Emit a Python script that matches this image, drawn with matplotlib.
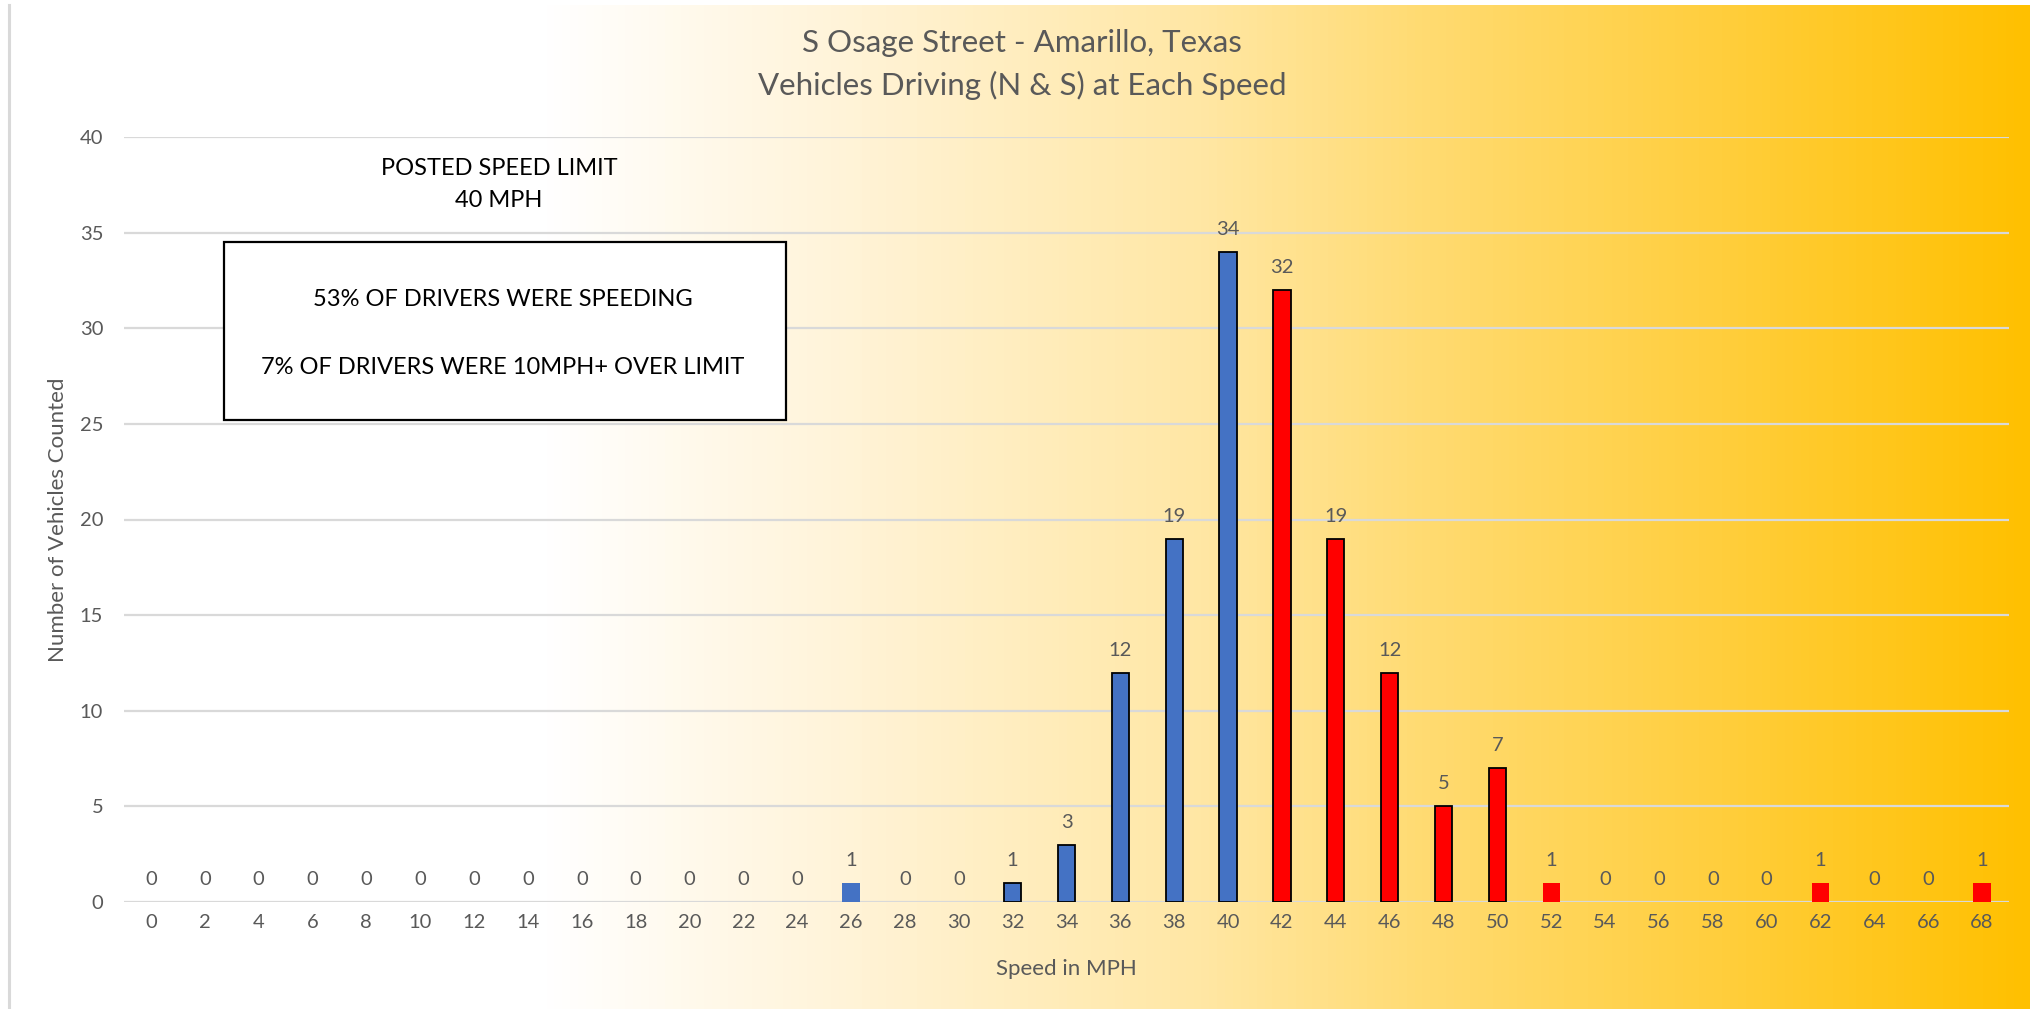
"""
Speed survey chart: vehicles counted at each speed on S Osage Street.
"""
import numpy as np
import matplotlib
matplotlib.use('Agg')
import matplotlib.pyplot as plt
from matplotlib.colors import LinearSegmentedColormap
from matplotlib.lines import Line2D
from matplotlib.patches import Rectangle

speeds = list(range(0, 70, 2))
counts = [0, 0, 0, 0, 0, 0, 0, 0, 0, 0, 0, 0, 0, 1, 0, 0, 1, 3, 12, 19,
          34, 32, 19, 12, 5, 7, 1, 0, 0, 0, 0, 1, 0, 0, 1]
speed_limit = 40
title_lines = ['S Osage Street - Amarillo, Texas',
               'Vehicles Driving (N & S) at Each Speed']
notes = ['53% OF DRIVERS WERE SPEEDING',
         '7% OF DRIVERS WERE 10MPH+ OVER LIMIT']

# styling
FONT = ['Lato', 'DejaVu Sans']
GREY = '#595959'
BLUE = '#4472C4'
RED = '#FF0000'
no_outline = {26, 52, 62, 68}

W, H = 2030, 1009
plt.rcParams['font.family'] = FONT
fig = plt.figure(figsize=(W / 100, H / 100), dpi=100)

# gradient background of the chart area
bg = fig.add_axes([10 / W, 0, 1 - 10 / W, 1 - 5 / H], zorder=-2)
cmap = LinearSegmentedColormap.from_list('fill', [
    (0.0, '#FFFFFF'), (0.265, '#FFFFFF'), (0.42, '#FFF3D6'),
    (0.59, '#FFE7A4'), (0.70, '#FFDB72'), (0.85, '#FFCE3C'),
    (1.0, '#FFC000')])
bg.imshow(np.linspace(0, 1, 512)[None, :], aspect='auto', cmap=cmap,
          extent=[0, 1, 0, 1])
bg.set_axis_off()
fig.add_artist(Line2D([9 / W, 9 / W], [0, 1 - 5 / H], color='#D9D9D9',
                      lw=2.2, transform=fig.transFigure))

ax = fig.add_axes([124 / W, 1 - 902 / H, (2009 - 124) / W, (902 - 137) / H])
ax.patch.set_alpha(0)

x = np.arange(len(speeds))
colors = [BLUE if s <= speed_limit else RED for s in speeds]
edges = ['none' if (s in no_outline or c == 0) else 'black'
         for s, c in zip(speeds, counts)]
bars = ax.bar(x, counts, width=0.32, color=colors, edgecolor=edges,
              linewidth=1.3, zorder=3)
ax.bar_label(bars, labels=[str(c) for c in counts], padding=10,
             color=GREY, fontsize=14.5)

ax.set_xlim(-0.5, len(speeds) - 0.5)
ax.set_ylim(0, 40)
ax.set_yticks(range(0, 41, 5))
ax.set_xticks(x, [str(s) for s in speeds])
ax.tick_params(length=0, labelsize=14.5, labelcolor=GREY)
ax.tick_params(axis='x', pad=9)
ax.tick_params(axis='y', pad=15)
ax.grid(axis='y', color='#D9D9D9', lw=1.6, zorder=0)
for sp in ax.spines.values():
    sp.set_visible(False)

fig.text(1066 / W, 1 - 969 / H, 'Speed in MPH', ha='center', va='center',
         fontsize=16, color=GREY)
fig.text(58 / W, 1 - 520 / H, 'Number of Vehicles Counted', rotation=90,
         ha='center', va='center', fontsize=16, color=GREY)

for i, line in enumerate(title_lines):
    fig.text(1022 / W, 1 - (43 + 42 * i) / H, line, ha='center',
             va='center', fontsize=22.5, color=GREY)

# annotations
ax.text(0.199, 0.938, 'POSTED SPEED LIMIT\n{} MPH'.format(speed_limit),
        transform=ax.transAxes, ha='center', va='center', fontsize=17,
        linespacing=1.6, color='black')
ax.add_patch(Rectangle((0.053, 0.630), 0.298, 0.233, transform=ax.transAxes,
                       facecolor='white', edgecolor='black', lw=1.6,
                       zorder=4))
for i, note in enumerate(notes):
    ax.text(0.201, 0.787 - 0.088 * i, note, transform=ax.transAxes,
            ha='center', va='center', fontsize=17, color='black', zorder=5)

fig.savefig('out.png', dpi=100)
